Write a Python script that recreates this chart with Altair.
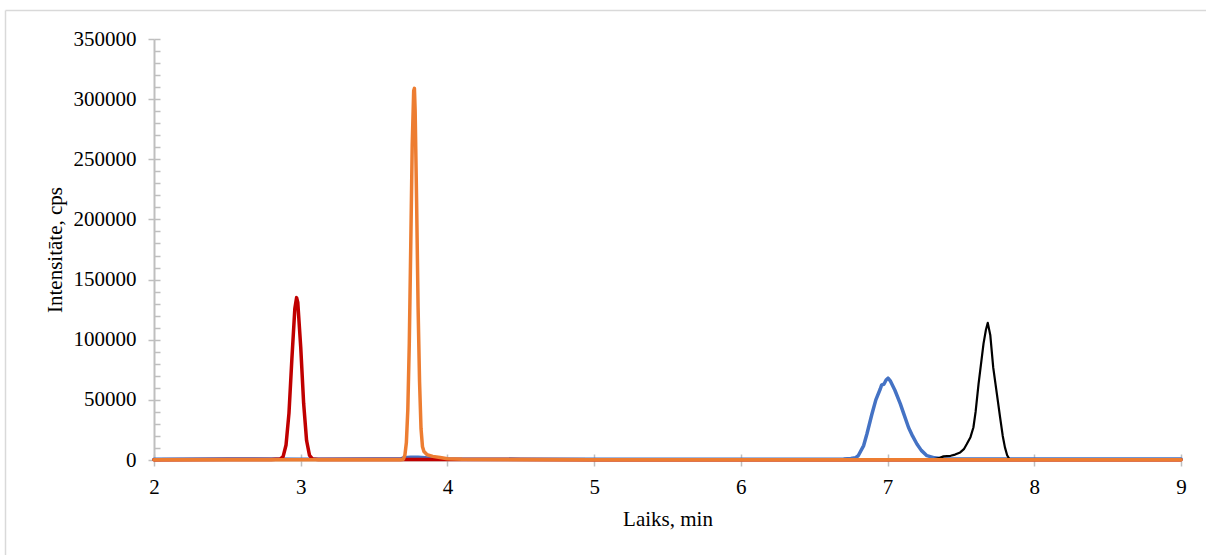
import altair as alt
import pandas as pd

# ---- data ----
blue_t = [2.0, 2.5, 3.0, 3.5, 3.68, 3.70, 3.75, 3.80, 3.85, 3.88, 3.95, 4.5, 5.0, 5.5, 6.0, 6.5, 6.70,
          6.75, 6.78, 6.80, 6.837, 6.86, 6.893, 6.92, 6.95, 6.96, 6.975, 6.99, 7.003, 7.02, 7.05,
          7.087, 7.11, 7.143, 7.17, 7.20, 7.23, 7.268, 7.32, 7.381, 7.5, 7.8, 8.0, 8.5, 9.0]
blue_v = [700, 750, 700, 750, 800, 1800, 2200, 2300, 1900, 1500, 900, 700, 700, 700, 700, 700, 900,
          1200, 1800, 3500, 12000, 22000, 38000, 50000, 59000, 62500, 63000, 66500, 68000, 65500, 58000,
          46700, 38500, 27000, 20000, 13300, 8000, 3600, 1800, 1100, 900, 800, 800, 800, 800]

black_t = [2.0, 3.0, 4.0, 5.0, 6.0, 7.0, 7.30, 7.35, 7.381, 7.43, 7.46, 7.495, 7.52, 7.54, 7.565,
           7.585, 7.60, 7.62, 7.654, 7.67, 7.683, 7.70, 7.72, 7.745, 7.767, 7.785, 7.80, 7.815,
           7.83, 7.9, 8.5, 9.0]
black_v = [200, 200, 200, 200, 200, 200, 300, 1500, 3000, 3500, 4500, 6300, 9000, 13300, 19000,
           27000, 40000, 63000, 96700, 108000, 114000, 104000, 77000, 55000, 35500, 20000, 10500, 4000,
           800, 400, 300, 300]

red_t = [2.0, 2.5, 2.8, 2.86, 2.88, 2.90, 2.92, 2.94, 2.96, 2.972, 2.98, 3.00, 3.02, 3.04, 3.06,
         3.08, 3.12, 3.5, 4.0, 5.0, 6.0, 7.0, 8.0, 9.0]
red_v = [300, 400, 450, 800, 2800, 12500, 39000, 84500, 126000, 135000, 131000, 94000, 47000, 16200,
         3800, 900, 500, 400, 400, 300, 300, 300, 300, 300]

orange_t = [2.0, 2.5, 3.0, 3.5, 3.68, 3.70, 3.71, 3.72, 3.73, 3.74, 3.75, 3.76, 3.77, 3.775, 3.78,
            3.79, 3.80, 3.81, 3.82, 3.83, 3.84, 3.86, 3.90, 3.95, 4.0, 4.1, 5.0, 6.0, 7.0, 8.0, 9.0]
orange_v = [300, 300, 300, 300, 300, 600, 4000, 14300, 41800, 96700, 178000, 262000, 307000, 309000,
            290000, 214000, 127000, 65000, 26000, 11000, 7000, 4500, 3000, 2000, 1000, 600, 300, 300,
            300, 300, 300]

x_ticks = [2, 3, 4, 5, 6, 7, 8, 9]
y_ticks = [0, 50000, 100000, 150000, 200000, 250000, 300000, 350000]
y_minor = list(range(0, 350001, 10000))

series_colors = {"blue": "#4472C4", "black": "#000000", "red": "#C00000", "orange": "#ED7D31"}

FONT = "Liberation Serif"
AX = "#BFBFBF"
W, H = 1027, 421

xscale = alt.Scale(domain=[2, 9], nice=False, zero=False)
yscale = alt.Scale(domain=[0, 350000], nice=False)

main_x = alt.Axis(orient="bottom", values=x_ticks, format="d", grid=False,
                  tickSize=6, tickColor=AX, tickWidth=1.5, domainColor=AX, domainWidth=2,
                  labelFont=FONT, labelFontSize=21, labelColor="black", labelPadding=10,
                  labelFlush=False, labelOverlap=False,
                  title="Laiks, min", titleFont=FONT, titleFontSize=21, titleFontWeight="normal",
                  titleColor="black", titlePadding=11)
main_y = alt.Axis(orient="left", values=y_ticks, format="d", grid=False,
                  tickSize=6, tickColor=AX, tickWidth=1.5, domainColor=AX, domainWidth=2,
                  labelFont=FONT, labelFontSize=21, labelColor="black", labelPadding=12,
                  labelFlush=False, labelOverlap=False,
                  title="Intensitāte, cps", titleFont=FONT, titleFontSize=21, titleFontWeight="normal",
                  titleColor="black", titlePadding=8)
inner_x = alt.Axis(orient="top", offset=-H, values=x_ticks, grid=False, labels=False, domain=False,
                   tickSize=6, tickColor=AX, tickWidth=1.5, title="")
inner_y = alt.Axis(orient="right", offset=-W, values=y_minor, grid=False, labels=False, domain=False,
                   tickSize=6, tickColor=AX, tickWidth=1.5, title="")


def line(t, v, name, width, xaxis, yaxis):
    df = pd.DataFrame({"t": t, "v": v})
    x = alt.X("t:Q", scale=xscale, axis=xaxis) if xaxis is not None else alt.X("t:Q", scale=xscale, axis=None)
    y = alt.Y("v:Q", scale=yscale, axis=yaxis) if yaxis is not None else alt.Y("v:Q", scale=yscale, axis=None)
    return alt.Chart(df).mark_line(color=series_colors[name], strokeWidth=width,
                                   strokeJoin="round", strokeCap="round").encode(x=x, y=y)


blue = line(blue_t, blue_v, "blue", 3.5, main_x, main_y)
black = line(black_t, black_v, "black", 2.2, None, None)
red = line(red_t, red_v, "red", 3.5, None, None)
orange = line(orange_t, orange_v, "orange", 3.5, inner_x, inner_y)

one = alt.Data(values=[{"k": 1}])
border_v = alt.Chart(one).mark_rule(color="#D9D9D9", strokeWidth=1.5, clip=False).encode(
    x=alt.value(-148.5), y=alt.value(-28.5), y2=alt.value(600))
border_h = alt.Chart(one).mark_rule(color="#D9D9D9", strokeWidth=1.5, clip=False).encode(
    x=alt.value(-148.5), x2=alt.value(1200), y=alt.value(-28.5))

chart = alt.layer(border_v, border_h, blue, black, red, orange).resolve_axis(
    x="independent", y="independent"
).properties(
    width=W, height=H,
    padding={"left": 154, "top": 39, "right": 25, "bottom": 95},
    autosize=alt.AutoSizeParams(type="none"),
    background="white",
).configure_view(stroke=None)

chart.save("out.html", embed_options={"renderer": "svg", "actions": False})
